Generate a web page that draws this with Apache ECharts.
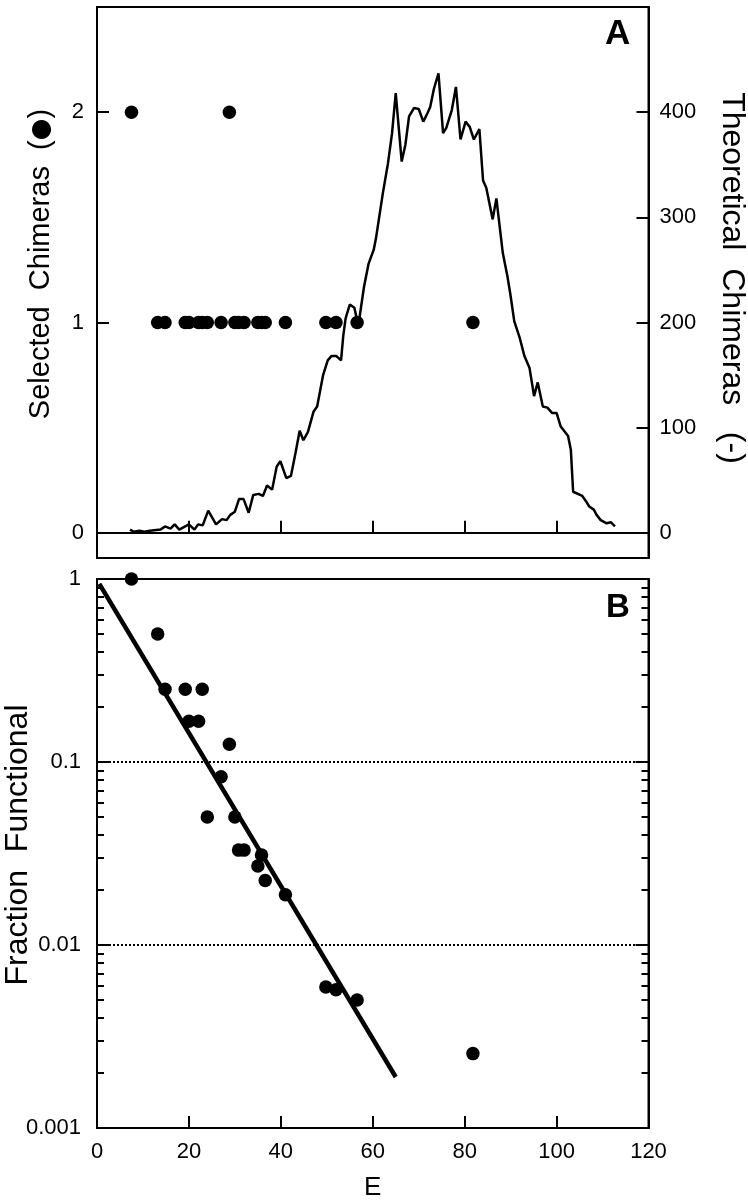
<!DOCTYPE html>
<html>
<head>
<meta charset="utf-8">
<script src="https://cdn.jsdelivr.net/npm/echarts@6/dist/echarts.min.js"></script>
<style>
html,body{margin:0;padding:0;background:#fff;}
#chart{width:748px;height:1200px;}
</style>
</head>
<body>
<div id="chart"></div>
<script>
// ---- Data ----
// Theoretical chimeras (line, panel A, right axis)
const thE = [7.2,8.0,9.2,10.3,11.5,13.8,14.8,16.0,16.9,17.9,20.0,21.2,22.0,23.0,24.2,25.9,27.2,28.2,29.0,30.0,30.9,31.9,33.0,34.0,35.2,36.1,37.0,38.1,39.1,39.9,41.2,42.2,43.2,44.1,44.9,45.9,47.1,47.9,49.2,50.2,51.0,52.1,53.1,53.6,54.1,55.0,56.0,56.6,57.1,58.1,59.1,60.2,60.7,62.2,63.3,64.2,65.0,66.3,67.1,67.9,69.0,70.0,71.0,71.9,72.5,73.3,74.3,75.3,76.0,77.2,78.1,79.1,80.2,81.1,82.0,83.2,84.0,84.7,86.1,86.9,88.3,89.3,89.9,90.8,92.0,93.0,94.1,95.1,95.9,97.0,98.0,99.0,100.0,100.9,102.5,103.1,103.6,105.6,106.4,107.1,108.1,108.7,109.6,110.9,111.8,112.7];
const thV = [3,1,2,1,2,3,6,4,8,3,8,3,8,7,21,8,13,12,17,20,32,32,19,36,37,35,45,41,63,68,52,54,76,97,88,96,115,120,150,164,168,168,164,188,204,217,214,202,204,234,256,269,280,323,351,380,418,353,369,396,404,403,391,399,405,422,437,380,385,402,424,374,391,386,374,384,335,328,298,318,266,244,228,201,185,168,157,130,143,120,119,114,114,101,92,79,39,35,30,25,22,17,12,9,10,6];

// Selected chimeras (dots)
const selE = [7.5,13.2,14.8,19.2,20.0,22.1,22.9,24.0,27.0,28.8,30.0,30.8,32.0,35.0,35.8,36.6,41.0,49.8,52.0,56.6,81.8];
const selN = [2,1,1,1,1,1,1,1,1,2,1,1,1,1,1,1,1,1,1,1,1];
const fracF = [1.0,0.5,0.25,0.25,0.167,0.167,0.25,0.05,0.083,0.125,0.05,0.033,0.033,0.027,0.031,0.0225,0.0188,0.0059,0.0057,0.005,0.00255];

// Fitted exponential line (panel B)
const fitE = [0.5, 65];
const fitF = [0.94, 0.0019];

// Tick values
const leftTicksA = [0,1,2];
const rightTicksA = [0,100,200,300,400];
const logMajor = [0.001,0.01,0.1,1];
const logMinor = [];
[0.001,0.01,0.1].forEach(d => { for (let k = 2; k <= 9; k++) logMinor.push(+(d*k).toPrecision(3)); });
const refLines = [0.1, 0.01];

// Axis titles
const titleSelA = '{a|Selected  Chimeras  (}{b|\u25CF}{a|)}';
const titleTheoA = 'Theoretical  Chimeras   (-)';
const titleFracB = 'Fraction  Functional';
const titleE = 'E';

// ---- Chart ----
const FONT = '"Liberation Sans", Arial, sans-serif';
const black = '#000';
const zip = (a, b) => a.map((v, i) => [v, b[i]]);
const lab = (extra) => Object.assign({color: black, fontSize: 22, fontFamily: FONT}, extra || {});
const axLine = {show: true, lineStyle: {color: black, width: 2}};
const rotText = (text, x, y, rot, size, rich) => ({
  type: 'text', x: x, y: y, rotation: rot, silent: true,
  style: {text: text, fill: black, fontSize: size, fontFamily: FONT, align: 'center', verticalAlign: 'middle', rich: rich}
});

const chart = echarts.init(document.getElementById('chart'), null, {renderer: 'canvas'});
chart.setOption({
  animation: false,
  backgroundColor: '#fff',
  title: [
    {text: 'A', left: 600, top: 12, textStyle: {fontSize: 35, fontWeight: 'bold', fontFamily: FONT, color: black}},
    {text: 'B', left: 601, top: 586, textStyle: {fontSize: 33, fontWeight: 'bold', fontFamily: FONT, color: black}}
  ],
  graphic: [
    rotText(titleSelA, 41, 264, Math.PI / 2, 29, {
      a: {fontSize: 29, fontFamily: FONT, fill: black},
      b: {fontSize: 25, fontFamily: '"DejaVu Sans", sans-serif', fill: black}
    }),
    rotText(titleTheoA, 732, 278, -Math.PI / 2, 32),
    rotText(titleFracB, 18, 845, Math.PI / 2, 32)
  ],
  grid: [
    {left: 97, right: 99.5, top: 7, height: 551, show: true, borderColor: black, borderWidth: 2, outerBoundsMode: 'none'},
    {left: 97, right: 99.5, top: 579, height: 549, show: true, borderColor: black, borderWidth: 2, outerBoundsMode: 'none'}
  ],
  xAxis: [
    {gridIndex: 0, type: 'value', min: 0, max: 120, interval: 20,
     axisLine: axLine, axisTick: {inside: true, length: 12, lineStyle: {color: black, width: 2}},
     axisLabel: {show: false}, splitLine: {show: false}},
    {gridIndex: 1, type: 'value', min: 0, max: 120, interval: 20,
     axisLine: axLine, axisTick: {inside: true, length: 12, lineStyle: {color: black, width: 2}},
     axisLabel: lab({margin: 13}), splitLine: {show: false},
     name: titleE, nameLocation: 'middle', nameGap: 47,
     nameTextStyle: {color: black, fontSize: 26, fontFamily: FONT}}
  ],
  yAxis: [
    {gridIndex: 0, type: 'value', position: 'left', min: -0.12, max: 2.5,
     axisLine: axLine,
     axisTick: {inside: true, length: 12, customValues: leftTicksA, lineStyle: {color: black, width: 2}},
     axisLabel: lab({customValues: leftTicksA, margin: 13}), splitLine: {show: false}},
    {gridIndex: 0, type: 'value', position: 'right', min: -24, max: 500,
     axisLine: axLine,
     axisTick: {inside: true, length: 12, customValues: rightTicksA, lineStyle: {color: black, width: 2}},
     axisLabel: lab({customValues: rightTicksA, margin: 11}), splitLine: {show: false}},
    {gridIndex: 1, type: 'log', logBase: 10, position: 'left', min: 0.001, max: 1,
     axisLine: axLine,
     axisTick: {inside: true, length: 13, customValues: logMajor, lineStyle: {color: black, width: 2}},
     axisLabel: lab({customValues: logMajor, margin: 16, formatter: v => String(+(+v).toPrecision(3))}),
     splitLine: {show: false}},
    {gridIndex: 1, type: 'log', logBase: 10, position: 'left', min: 0.001, max: 1,
     axisLine: {show: false},
     axisTick: {inside: true, length: 7, customValues: logMinor, lineStyle: {color: black, width: 2}},
     axisLabel: {show: false}, splitLine: {show: false}},
    {gridIndex: 1, type: 'log', logBase: 10, position: 'right', min: 0.001, max: 1,
     axisLine: axLine,
     axisTick: {inside: true, length: 13, customValues: logMajor, lineStyle: {color: black, width: 2}},
     axisLabel: {show: false}, splitLine: {show: false}},
    {gridIndex: 1, type: 'log', logBase: 10, position: 'right', min: 0.001, max: 1,
     axisLine: {show: false},
     axisTick: {inside: true, length: 7, customValues: logMinor, lineStyle: {color: black, width: 2}},
     axisLabel: {show: false}, splitLine: {show: false}}
  ],
  series: [
    {type: 'line', xAxisIndex: 0, yAxisIndex: 1, data: zip(thE, thV), showSymbol: false,
     lineStyle: {color: black, width: 2.5}, silent: true},
    {type: 'scatter', xAxisIndex: 0, yAxisIndex: 0, data: zip(selE, selN), symbol: 'circle', symbolSize: 13.5,
     itemStyle: {color: black, opacity: 1}, clip: false},
    {type: 'line', xAxisIndex: 1, yAxisIndex: 2, data: zip(fitE, fitF), showSymbol: false,
     lineStyle: {color: black, width: 4.5}, silent: true,
     markLine: {silent: true, symbol: ['none', 'none'], label: {show: false},
       lineStyle: {color: black, width: 2, type: [2, 2]},
       data: refLines.map(v => ({yAxis: v}))}},
    {type: 'scatter', xAxisIndex: 1, yAxisIndex: 2, data: zip(selE, fracF), symbol: 'circle', symbolSize: 13.5,
     itemStyle: {color: black, opacity: 1}, clip: false}
  ]
});
</script>
</body>
</html>
